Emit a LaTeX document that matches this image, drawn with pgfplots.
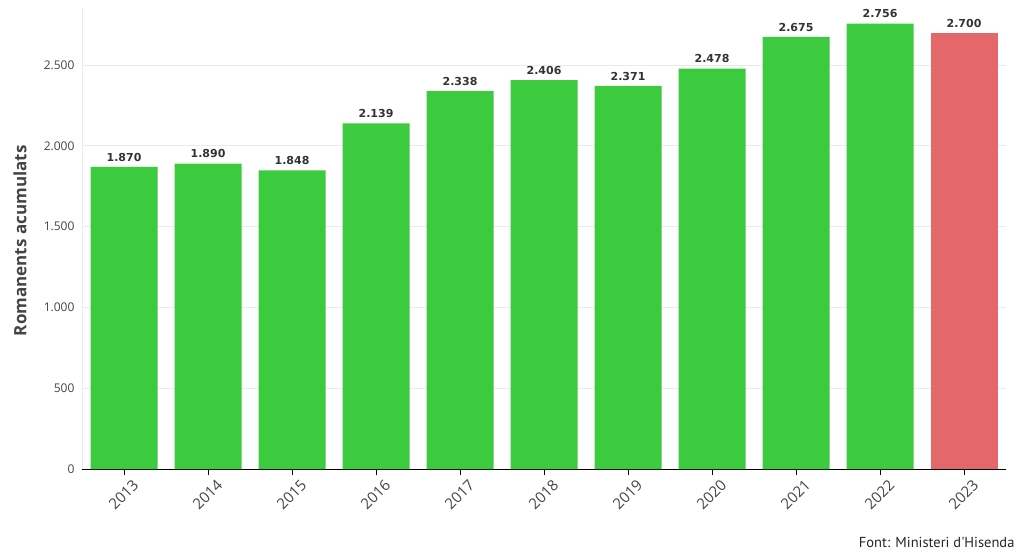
\documentclass[border=0pt]{standalone}
\usepackage{pgfplots}
\pgfplotsset{compat=1.18}
\usepackage{fontspec}
\setmainfont{Open Sans}
\newfontfamily\dejavu{DejaVu Sans}
\newfontfamily\foot{PT Sans}
\definecolor{bargreen}{HTML}{3CCB3F}
\definecolor{barred}{HTML}{E46869}
\definecolor{txt}{HTML}{444444}
\definecolor{gridc}{HTML}{EBEBEB}
\begin{document}
\begin{tikzpicture}
\begin{axis}[
  at={(82pt,83pt)}, anchor=south west,
  scale only axis, width=924pt, height=461pt,
  xmin=-0.5, xmax=10.5, ymin=0, ymax=2853,
  ybar, bar width=67pt, bar shift=0pt,
  xtick={0,...,10},
  xticklabels={2013,2014,2015,2016,2017,2018,2019,2020,2021,2022,2023},
  x tick label style={rotate=45, anchor=north east, inner sep=0pt, xshift=3pt, yshift=-8pt, font=\fontsize{15}{17}\selectfont, text=txt},
  ytick={0,500,1000,1500,2000,2500},
  y tick label style={font=\fontsize{12}{14}\selectfont, text=txt, xshift=-4pt},
  /pgf/number format/assume math mode=true,
  /pgf/number format/1000 sep={.},
  ymajorgrids, grid style={gridc, line width=0.8pt},
  axis x line*=bottom, axis y line*=left,
  x axis line style={black, line width=0.8pt, -},
  y axis line style={gridc, line width=0.8pt, -},
  xtick style={black, line width=0.8pt},
  major tick length=6pt,
  xtick align=outside,
  ytick style={draw=none},
  ylabel={\textbf{Romanents acumulats}},
  ylabel style={at={(axis description cs:-0.067,0.495)}, anchor=center, font=\fontsize{17}{20}\selectfont, text=txt},
  nodes near coords,
  nodes near coords style={yshift=2pt, font=\dejavu\bfseries\fontsize{11}{13}\selectfont, text=black!80, /pgf/number format/assume math mode=true, /pgf/number format/1000 sep={.}, /pgf/number format/fixed, /pgf/number format/precision=0},
  point meta=y,
]
\addplot[fill=bargreen, draw=none] coordinates {(0,1870) (1,1890) (2,1848) (3,2139) (4,2338) (5,2406) (6,2371) (7,2478) (8,2675) (9,2756)};
\addplot[fill=barred, draw=none] coordinates {(10,2700)};
\end{axis}
\node[anchor=east, font=\foot\fontsize{14.5}{16}\selectfont, text=black!85] at (1018pt,10pt) {Font: Ministeri d'Hisenda};
\pgfresetboundingbox
\useasboundingbox (0,0) rectangle (1020pt,552pt);
\end{tikzpicture}
\end{document}
